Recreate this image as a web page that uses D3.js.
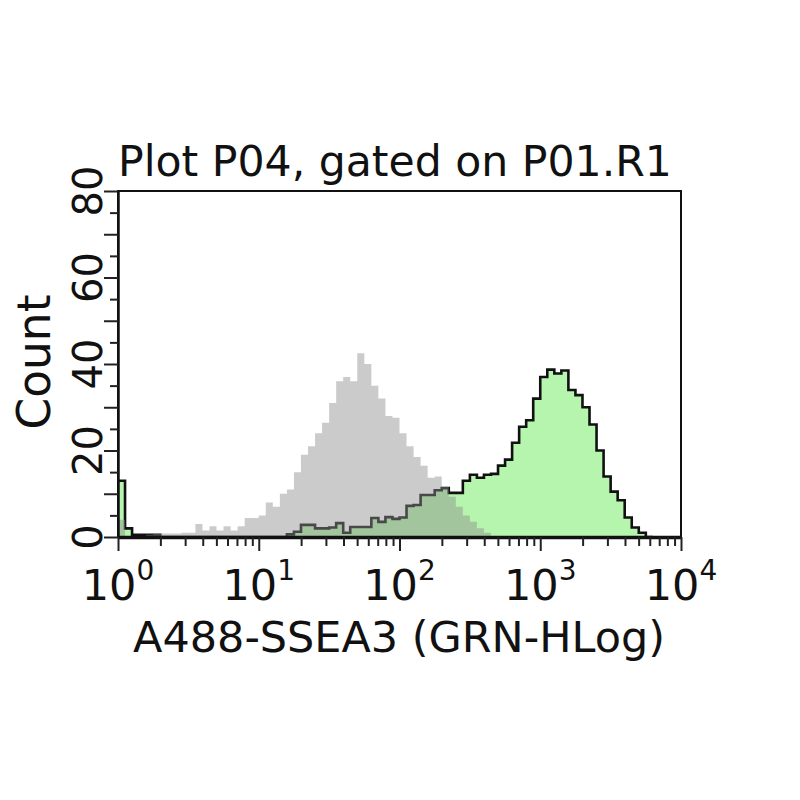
<!DOCTYPE html>
<html>
<head>
<meta charset="utf-8">
<script src="https://cdn.jsdelivr.net/npm/d3@7"></script>
<style>
  html, body { margin: 0; padding: 0; background: #fff; }
  svg { display: block; }
  text { font-family: "DejaVu Sans", Verdana, sans-serif; fill: #111; }
</style>
</head>
<body>
<svg id="chart" width="800" height="800"></svg>
<script>
// ---------------- data ----------------
const titleText = "Plot P04, gated on P01.R1";
const xLabelText = "A488-SSEA3 (GRN-HLog)";
const yLabelText = "Count";

// histogram channels: uniform in log10 units, starting at 10^0
const binStartLog = 0;
const binWidthLog = 0.05;

// control (gray) histogram counts per channel
const grayCounts = [4,0,0,0,0.5,0.8,0.8,0.8,0.8,1,1,3,1.5,2.5,1.5,2.5,1.5,2.5,4.4,4.4,
  5,8,7,10,11,15,19,21,24,26.4,31,36,37,36,42.5,40,35,32,28,27.6,
  24,21,18.5,16.5,13.7,14,11.6,9.3,7,5,3.5,2,1,0];

// stained (green) histogram counts per channel
const greenCounts = [13,2,0.5,0.5,0.5,0.5,0,0,0,0,0,0,0,0,0,0,0,0,0,0,
  0,0,0,0,0.6,1.2,2.8,2.8,2,2,2.2,3.2,1,2.3,2.3,2.3,4.4,3.5,4.6,4.2,
  4.5,7.2,7.4,9.7,9.7,10.8,11.3,10.2,10.2,13,14.4,13.7,14.4,14.6,16.5,17.9,21.8,25.5,27,32,
  37,38.7,37.8,38.5,34,32.8,30,26,20,14,10.5,8.5,4.5,2.2,1,0];

const xDomain = [1, 10000];
const yDomain = [0, 80];
const yTickLabels = [0, 20, 40, 60, 80];
const xMajorTicks = [1, 10, 100, 1000, 10000];

// ---------------- layout ----------------
const svg = d3.select("#chart");
const plot = { left: 118, right: 681, top: 191, bottom: 537 };

const x = d3.scaleLog().domain(xDomain).range([plot.left, plot.right]);
const y = d3.scaleLinear().domain(yDomain).range([plot.bottom, plot.top]);

function toPoints(counts) {
  const pts = counts.map((c, i) => ({ v: Math.pow(10, binStartLog + i * binWidthLog), c }));
  pts.push({ v: Math.pow(10, binStartLog + counts.length * binWidthLog), c: 0 });
  return pts;
}

svg.append("defs").append("clipPath").attr("id", "clip")
  .append("rect").attr("x", plot.left).attr("y", plot.top)
  .attr("width", plot.right - plot.left).attr("height", plot.bottom - plot.top);

const g = svg.append("g").attr("clip-path", "url(#clip)");

const area = d3.area().curve(d3.curveStepAfter)
  .x(d => x(d.v)).y0(y(0)).y1(d => y(d.c));
const line = d3.line().curve(d3.curveStepAfter)
  .x(d => x(d.v)).y(d => y(d.c));

const greenPts = toPoints(greenCounts);
const grayPts = toPoints(grayCounts);

g.append("path").datum(greenPts).attr("d", area)
  .attr("fill", "#b6f5ae").attr("stroke", "none");
g.append("path").datum(greenPts).attr("d", line)
  .attr("fill", "none").attr("stroke", "#111").attr("stroke-width", 2.6)
  .attr("stroke-linejoin", "miter");
g.append("path").datum(grayPts).attr("d", area)
  .attr("fill", "#8c8c8c").attr("fill-opacity", 0.45).attr("stroke", "none");

// frame
svg.append("rect").attr("x", plot.left).attr("y", plot.top)
  .attr("width", plot.right - plot.left).attr("height", plot.bottom - plot.top)
  .attr("fill", "none").attr("stroke", "#111").attr("stroke-width", 2);

// ---------------- y axis ----------------
const yTicks = d3.range(yDomain[0], yDomain[1] + 1, 5);
const yAxis = svg.append("g").attr("transform", `translate(${plot.left},0)`)
  .call(d3.axisLeft(y).tickValues(yTicks).tickFormat("").tickSizeOuter(0));
yAxis.select(".domain").attr("stroke", "#111").attr("stroke-width", 2.5);
yAxis.selectAll(".tick line").attr("stroke", "#222").attr("stroke-width", 2)
  .attr("x2", d => (d % 10 === 0 ? -14 : -8));

svg.append("g").selectAll("text").data(yTickLabels).join("text")
  .attr("transform", d => `translate(88,${y(d)}) rotate(-90)`)
  .attr("text-anchor", "middle").attr("dominant-baseline", "central")
  .style("font-size", "40px").text(d => d);

// ---------------- x axis ----------------
const xTicks = [];
for (let e = 0; e < 4; e++) for (let m = 1; m < 10; m++) xTicks.push(m * Math.pow(10, e));
xTicks.push(10000);
const xAxis = svg.append("g").attr("transform", `translate(0,${plot.bottom})`)
  .call(d3.axisBottom(x).tickValues(xTicks).tickFormat("").tickSizeOuter(0));
xAxis.select(".domain").attr("stroke", "#111").attr("stroke-width", 3.5);
xAxis.selectAll(".tick line").attr("stroke", "#222").attr("stroke-width", 2)
  .attr("y2", d => (xMajorTicks.includes(d) ? 14 : 9));

const xl = svg.append("g").selectAll("text").data(xMajorTicks).join("text")
  .attr("y", 600).style("font-size", "43px");
xl.append("tspan").text("10");
xl.append("tspan").attr("dy", -20).style("font-size", "28px")
  .text(d => Math.round(Math.log10(d)));
xl.each(function(d) {
  const w = this.getBBox().width;
  d3.select(this).attr("x", x(d) - w / 2);
});

// ---------------- titles ----------------
function fitText(sel, target) {
  const node = sel.node();
  const base = parseFloat(sel.style("font-size"));
  const w = node.getComputedTextLength();
  sel.style("font-size", (base * target / w) + "px");
}

const title = svg.append("text").attr("x", 118).attr("y", 176)
  .style("font-size", "36px").text(titleText);
fitText(title, 554);

const xLab = svg.append("text").attr("x", 399).attr("y", 652)
  .attr("text-anchor", "middle").style("font-size", "42px").text(xLabelText);
fitText(xLab, 532);

const yLab = svg.append("text")
  .attr("transform", "translate(50,362) rotate(-90)")
  .attr("text-anchor", "middle").style("font-size", "42px").text(yLabelText);
fitText(yLab, 135);
</script>
</body>
</html>
